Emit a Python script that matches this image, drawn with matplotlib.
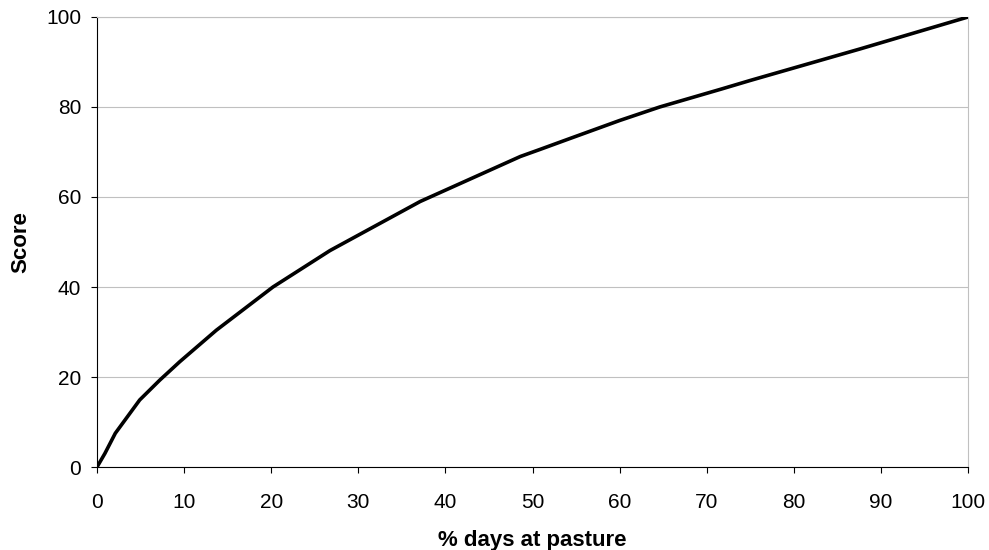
import numpy as np
import matplotlib
matplotlib.use('Agg')
import matplotlib.pyplot as plt

plt.rcParams['font.family'] = ['Liberation Sans', 'DejaVu Sans']

# values
days_pct = [0, 0.9, 2.1, 3.5, 4.9, 7.2, 9.5, 13.7, 20.2, 26.75, 37.1,
            48.6, 50.9, 54.3, 60, 64.6, 71.7, 75, 87.6, 100]
score = [0, 3.0, 7.5, 11.2, 14.9, 19.3, 23.4, 30.4, 40, 48.1, 59.0,
         69.0, 70.6, 73.0, 77.0, 80, 84.0, 85.9, 92.9, 100]

x_ticks = list(range(0, 101, 10))
y_ticks = list(range(0, 101, 20))

fig = plt.figure(figsize=(9.89, 5.5), dpi=100)
ax = fig.add_axes([0.0981, 0.1509, 0.9788 - 0.0981, 0.9691 - 0.1509])

ax.plot(days_pct, score, color='black', linewidth=2.6, solid_capstyle='round',
        solid_joinstyle='round', zorder=3)

ax.set_xlim(0, 100)
ax.set_ylim(0, 100)
ax.set_xticks(x_ticks)
ax.set_yticks(y_ticks)
ax.grid(axis='y', color='#c0c0c0', linewidth=0.8)
ax.set_axisbelow(True)

for side in ['top', 'right']:
    ax.spines[side].set_color('#c0c0c0')
    ax.spines[side].set_linewidth(0.8)
for side in ['left', 'bottom']:
    ax.spines[side].set_color('black')
    ax.spines[side].set_linewidth(0.8)

ax.tick_params(axis='both', direction='out', length=4.5, width=0.8,
               colors='black', labelsize=15)
ax.tick_params(axis='x', pad=14.5)
ax.tick_params(axis='y', pad=7)

ax.set_xlabel('% days at pasture', fontsize=16, fontweight='bold', labelpad=13)
ax.set_ylabel('Score', fontsize=16, fontweight='bold', labelpad=10.5)

fig.savefig('out.png', dpi=100)
